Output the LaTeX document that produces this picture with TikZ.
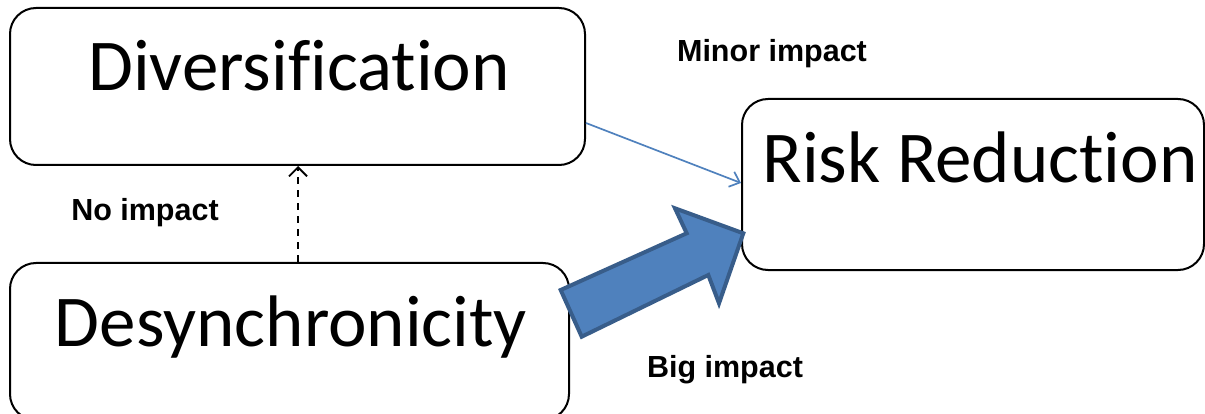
\documentclass[tikz,border=0pt]{standalone}
\usepackage{fontspec}
\setmainfont{Carlito}[RawFeature={-liga;-clig}]
\newfontfamily\labfont{Liberation Sans}
\usetikzlibrary{arrows.meta}
\definecolor{accent}{HTML}{4F81BD}
\definecolor{accentdark}{HTML}{385D8A}
\begin{document}
\begin{tikzpicture}[x=1pt,y=-1pt,
  box/.style={draw, line width=2pt, rounded corners=26pt, inner sep=0pt},
  bigtext/.style={font=\fontsize{73}{80}\selectfont, inner sep=0pt, anchor=base},
  lbl/.style={font=\labfont\bfseries\fontsize{30.5}{36}\selectfont, inner sep=0pt, anchor=base}]
\useasboundingbox (0,0) rectangle (1205,414);
\clip (0,0) rectangle (1205,414);
% boxes
\node[box, minimum width=575pt, minimum height=157pt] (div) at (297.5,86.5) {};
\node[box, minimum width=462pt, minimum height=171pt] (risk) at (973,184.5) {};
\node[box, minimum width=559pt, minimum height=157pt] (des) at (289.5,341.5) {};
% texts
\node[bigtext] (divt) at (299,91) {Diversification};
\node[bigtext] (riskt) at (980,183) {Risk Reduction};
\node[bigtext] (dest) at (291,346) {Desynchronicity};
% labels
\node[lbl] (minor) at (772,62) {Minor impact};
\node[lbl] (none) at (145,221) {No impact};
\node[lbl] (bigl) at (725,377) {Big impact};
% connectors
\coordinate (a1) at (div.east |- 0,123);
\coordinate (a2) at (risk.west |- 0,183);
\draw[accent, line width=1.7pt, -{Straight Barb[length=9pt,width=16pt,line width=1.7pt]}] (a1) -- (a2);
\draw[black, line width=1.8pt, dash pattern=on 7pt off 6pt, -{Straight Barb[length=9pt,width=18pt,line width=1.8pt]}] (des.north -| 298,0) -- (div.south -| 298,0);
% block arrow
\draw[fill=accent, draw=accentdark, line width=4pt, line join=miter]
  (581.7,336.7) -- (560.7,290) -- (686.7,233.3) -- (675,208.3) -- (743.3,233.3) -- (719,303.3) -- (708.3,275) -- cycle;
\end{tikzpicture}
\end{document}
